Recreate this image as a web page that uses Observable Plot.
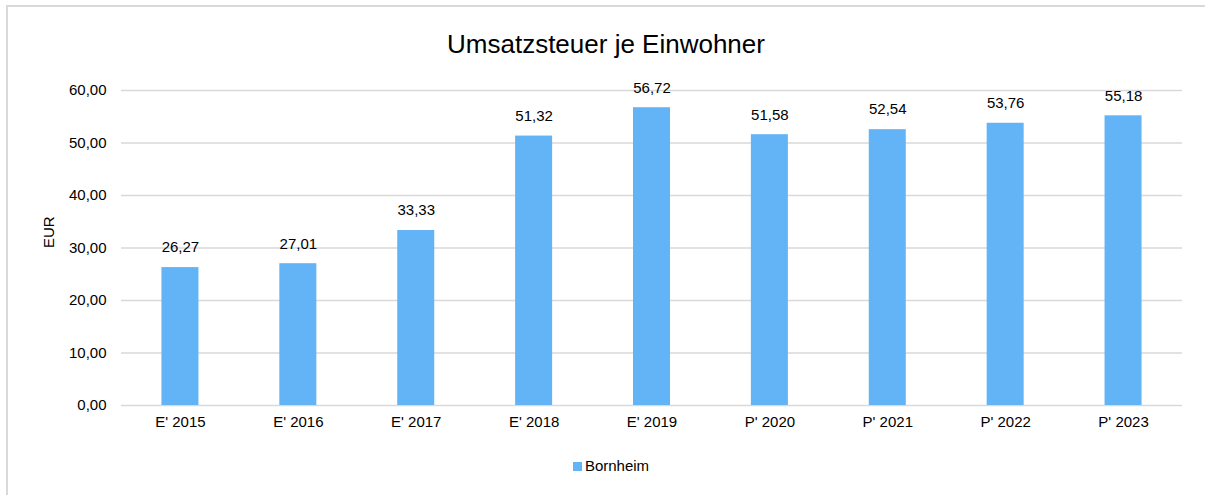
<!DOCTYPE html>
<html><head><meta charset="utf-8">
<script src="https://cdn.jsdelivr.net/npm/d3@7"></script>
<script src="https://cdn.jsdelivr.net/npm/@observablehq/plot@0.6"></script>
<style>
body{margin:0;background:#fff;font-family:"Liberation Sans",Arial,sans-serif;}
#wrap{position:relative;width:1205px;height:495px;overflow:hidden;}
#frame{position:absolute;left:6px;top:5px;width:1300px;height:600px;border:2px solid #d9d9d9;box-sizing:border-box;}
#title{position:absolute;left:0;width:1212px;top:29px;text-align:center;font-size:26px;color:#000;}
#chart{position:absolute;left:0;top:0;}
#legend{position:absolute;left:0;width:1222px;top:457px;text-align:center;font-size:15px;color:#000;}
#legend span.sw{display:inline-block;width:9px;height:9px;background:#63b4f6;margin-right:3px;vertical-align:0px;}
</style></head>
<body>
<div id="wrap">
<div id="frame"></div>
<div id="title">Umsatzsteuer je Einwohner</div>
<div id="chart"></div>
<div id="legend"><span class="sw"></span>Bornheim</div>
</div>
<script>
const categories = ["E' 2015","E' 2016","E' 2017","E' 2018","E' 2019","P' 2020","P' 2021","P' 2022","P' 2023"];
const values = [26.27, 27.01, 33.33, 51.32, 56.72, 51.58, 52.54, 53.76, 55.18];
const yTicks = [0, 10, 20, 30, 40, 50, 60];
const seriesName = "Bornheim";

const data = categories.map((c, i) => ({cat: c, value: values[i], series: seriesName}));
const fmt = v => v.toFixed(2).replace(".", ",");

const chart = Plot.plot({
  width: 1205,
  height: 440,
  marginTop: 90,
  marginBottom: 35,
  marginLeft: 121,
  marginRight: 23,
  style: {fontFamily: "'Liberation Sans', Arial, sans-serif", fontSize: "15px", color: "#000", background: "transparent"},
  x: {domain: categories, paddingInner: 0.686, paddingOuter: 0.343, round: false, label: null},
  y: {domain: [0, 60], ticks: yTicks, label: null},
  marks: [
    Plot.ruleY(yTicks, {stroke: "#d9d9d9", strokeWidth: 1.5}),
    Plot.barY(data, {x: "cat", y: "value", fill: "#63b4f6"}),
    Plot.text(data, {x: "cat", y: "value", text: d => fmt(d.value), dy: -20, fill: "#000", fontSize: 15}),
    Plot.axisX({tickSize: 0, tickPadding: 11, fontSize: 15}),
    Plot.axisY({ticks: yTicks, tickSize: 0, tickPadding: 15, tickFormat: fmt, fontSize: 15}),
    Plot.text(["EUR"], {frameAnchor: "left", dx: -72, rotate: -90, fontSize: 15, fill: "#000"})
  ]
});
document.getElementById("chart").appendChild(chart);
</script>
</body></html>
